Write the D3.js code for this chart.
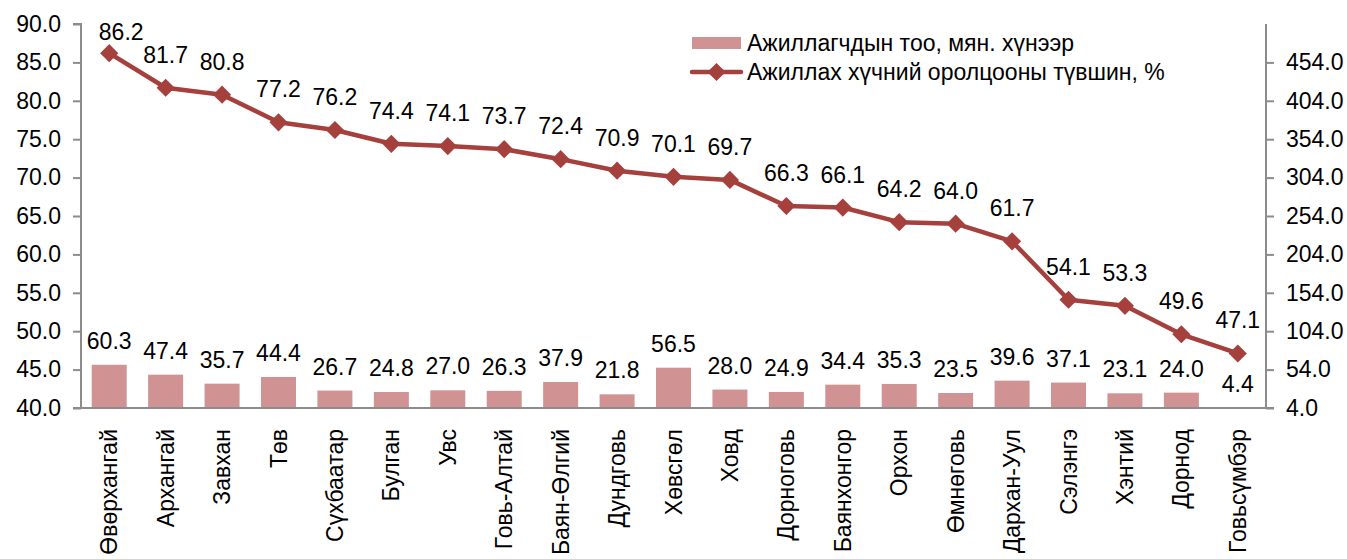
<!DOCTYPE html>
<html>
<head>
<meta charset="utf-8">
<script src="https://cdn.jsdelivr.net/npm/d3@7"></script>
<style>
  body { margin: 0; background: #fff; }
  text { font-family: "Liberation Sans", Arial, sans-serif; fill: #000; }
</style>
</head>
<body>
<div id="chart"></div>
<script>
const aimags = ["Өвөрхангай", "Архангай", "Завхан", "Төв", "Сүхбаатар", "Булган", "Увс", "Говь-Алтай",
    "Баян-Өлгий", "Дундговь", "Хөвсгөл", "Ховд", "Дорноговь", "Баянхонгор", "Орхон", "Өмнөговь",
    "Дархан-Уул", "Сэлэнгэ", "Хэнтий", "Дорнод", "Говьсүмбэр"];
const workers = [60.3, 47.4, 35.7, 44.4, 26.7, 24.8, 27.0, 26.3, 37.9, 21.8, 56.5, 28.0, 24.9, 34.4,
    35.3, 23.5, 39.6, 37.1, 23.1, 24.0, 4.4];
const participation = [86.2, 81.7, 80.8, 77.2, 76.2, 74.4, 74.1, 73.7, 72.4, 70.9, 70.1, 69.7, 66.3,
    66.1, 64.2, 64.0, 61.7, 54.1, 53.3, 49.6, 47.1];
const leftTicks = [40, 45, 50, 55, 60, 65, 70, 75, 80, 85, 90];
const rightTicks = [4, 54, 104, 154, 204, 254, 304, 354, 404, 454];
const seriesNames = ["Ажиллагчдын тоо, мян. хүнээр", "Ажиллах хүчний оролцооны түвшин, %"];

const W = 1347, H = 559;
const m = { top: 24, right: 81, bottom: 151, left: 81 };
const width = W - m.left - m.right;
const height = H - m.top - m.bottom;
const barColor = "#d09292";
const lineColor = "#a6403d";
const axisColor = "#8c8c8c";
const fs = "23px";

const svg = d3.select("#chart").append("svg")
    .attr("width", W)
    .attr("height", H);

const g = svg.append("g").attr("transform", `translate(${m.left},${m.top})`);

const x = d3.scaleBand()
    .domain(aimags)
    .range([0, width])
    .paddingInner(0.38)
    .paddingOuter(0.19);

const yL = d3.scaleLinear().domain([40, 90]).range([height, 0]);
const yR = d3.scaleLinear().domain([4, 504]).range([height, 0]);

const fmt = d3.format(".1f");

// bars (right axis)
g.selectAll(".bar")
    .data(workers)
    .enter().append("rect")
    .attr("class", "bar")
    .attr("x", (d, i) => x(aimags[i]))
    .attr("y", d => yR(d))
    .attr("width", x.bandwidth())
    .attr("height", d => height - yR(d))
    .attr("fill", barColor);

g.selectAll(".bar-label")
    .data(workers)
    .enter().append("text")
    .attr("class", "bar-label")
    .attr("x", (d, i) => x(aimags[i]) + x.bandwidth() / 2)
    .attr("y", d => yR(d) - 16)
    .attr("text-anchor", "middle")
    .style("font-size", fs)
    .text(d => fmt(d));

// axes
const axisL = g.append("g")
    .call(d3.axisLeft(yL).tickValues(leftTicks).tickFormat(fmt).tickSize(8).tickPadding(12));
const axisR = g.append("g")
    .attr("transform", `translate(${width},0)`)
    .call(d3.axisRight(yR).tickValues(rightTicks).tickFormat(fmt).tickSize(8).tickPadding(12));
const axisB = g.append("g")
    .attr("transform", `translate(0,${height})`)
    .call(d3.axisBottom(x).tickSize(0).tickPadding(0));

[axisL, axisR, axisB].forEach(a => {
    a.select(".domain").attr("stroke", axisColor).attr("stroke-width", 2);
    a.selectAll(".tick line").attr("stroke", axisColor).attr("stroke-width", 2);
    a.selectAll("text").style("font-size", fs).style("font-family", "Liberation Sans, Arial, sans-serif").attr("fill", "#000");
});
axisL.select(".domain").attr("d", `M-8,${height}H0V0H-8`);
axisR.select(".domain").attr("d", `M0,0V${height}`);
axisB.select(".domain").attr("d", `M-8,0H${width + 8}`);

axisB.selectAll(".tick text")
    .attr("transform", "rotate(-90)")
    .attr("x", -21)
    .attr("y", 0)
    .attr("dy", "0.35em")
    .attr("text-anchor", "end");

// line (left axis)
const pts = participation.map((d, i) => [x(aimags[i]) + x.bandwidth() / 2, yL(d)]);
g.append("path")
    .attr("d", d3.line()(pts))
    .attr("fill", "none")
    .attr("stroke", lineColor)
    .attr("stroke-width", 4.5)
    .attr("stroke-linejoin", "round");

const diamond = d3.symbol().type(d3.symbolDiamond2).size(210);
g.selectAll(".marker")
    .data(pts)
    .enter().append("path")
    .attr("class", "marker")
    .attr("transform", d => `translate(${d[0]},${d[1]})`)
    .attr("d", diamond)
    .attr("fill", lineColor);

// labels that would leave the plot top are pushed down and to the right, like Excel does
g.selectAll(".line-label")
    .data(participation)
    .enter().append("text")
    .attr("class", "line-label")
    .attr("x", (d, i) => pts[i][0] + (yL(d) - 25 < 16 ? 12 : 0))
    .attr("y", d => Math.max(yL(d) - 25, 16))
    .attr("text-anchor", "middle")
    .style("font-size", fs)
    .text(d => fmt(d));

// legend
const legend = svg.append("g").attr("transform", "translate(692,43)");
legend.append("rect")
    .attr("x", 0).attr("y", -6)
    .attr("width", 49).attr("height", 12)
    .attr("fill", barColor);
legend.append("text")
    .attr("x", 55).attr("y", 0).attr("dy", "0.35em")
    .style("font-size", fs)
    .text(seriesNames[0]);
legend.append("line")
    .attr("x1", 0).attr("x2", 49).attr("y1", 29).attr("y2", 29)
    .attr("stroke", lineColor).attr("stroke-width", 4.5).attr("stroke-linecap", "round");
legend.append("path")
    .attr("transform", "translate(24.5,29)")
    .attr("d", diamond)
    .attr("fill", lineColor);
legend.append("text")
    .attr("x", 55).attr("y", 29).attr("dy", "0.35em")
    .style("font-size", fs)
    .text(seriesNames[1]);
</script>
</body>
</html>
